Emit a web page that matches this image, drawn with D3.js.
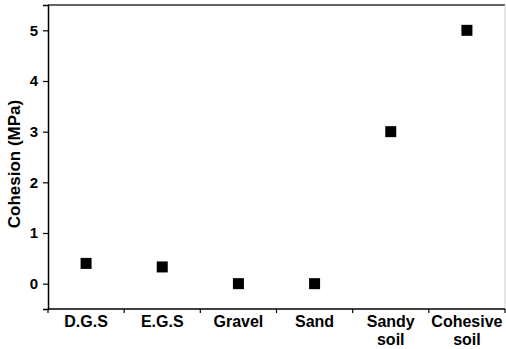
<!DOCTYPE html>
<html><head><meta charset="utf-8">
<script src="https://cdn.jsdelivr.net/npm/d3@7"></script>
<style>body{margin:0;background:#fff}svg{display:block}text{font-family:"Liberation Sans",Arial,sans-serif;font-weight:bold}</style>
</head><body>
<script>
const categories = ["D.G.S","E.G.S","Gravel","Sand","Sandy soil","Cohesive soil"];
const cohesion = [0.4, 0.33, 0, 0, 3, 5];
const yTicks = [0,1,2,3,4,5];
const yLabel = "Cohesion (MPa)";

const W=506,H=349;
const m={l:48,t:5,r:1,b:40};
const svg=d3.select("body").append("svg").attr("width",W).attr("height",H);
const x=d3.scaleBand().domain(categories).range([m.l,W-m.r]);
const y=d3.scaleLinear().domain([-0.5,5.5]).range([H-m.b,m.t]);

// frame top/right
svg.append("line").attr("x1",m.l).attr("x2",W-m.r).attr("y1",m.t).attr("y2",m.t).attr("stroke","#666").attr("stroke-width",2);
svg.append("line").attr("x1",W-m.r).attr("x2",W-m.r).attr("y1",m.t).attr("y2",H-m.b).attr("stroke","#ccc").attr("stroke-width",1);

// y axis
const ya=svg.append("g").attr("transform",`translate(${m.l},0)`).call(d3.axisLeft(y).tickValues(yTicks).tickSize(5).tickPadding(5).tickFormat(d3.format("d")));
ya.attr("font-size",15).attr("font-family","Liberation Sans, Arial, sans-serif");
ya.select(".domain").attr("stroke","#000").attr("stroke-width",1.5);
ya.selectAll(".tick line").attr("stroke-width",1.2);
ya.selectAll("text").attr("font-size",15).attr("fill","#000").attr("font-weight","bold");

// x axis with ticks at band boundaries
const xa=svg.append("g").attr("transform",`translate(0,${H-m.b})`);
xa.append("line").attr("x1",m.l).attr("x2",W-m.r).attr("stroke","#000").attr("stroke-width",1.5);
const bounds=categories.map(c=>x(c)).concat([x.range()[1]]);
xa.selectAll("line.tk").data(bounds).join("line").attr("class","tk").attr("x1",d=>d).attr("x2",d=>d).attr("y1",0).attr("y2",4).attr("stroke","#000").attr("stroke-width",1.2);
const lab=xa.selectAll("text.lab").data(categories).join("text").attr("class","lab")
 .attr("x",d=>x(d)+x.bandwidth()/2).attr("y",18).attr("text-anchor","middle").attr("font-size",16).attr("fill","#000");
lab.each(function(d){
  const parts=d.split(" ");
  d3.select(this).selectAll("tspan").data(parts).join("tspan").attr("x",x(d)+x.bandwidth()/2).attr("dy",(p,i)=>i?18:0).text(p=>p);
});

// y label
svg.append("text").attr("transform",`translate(20,164) rotate(-90)`).attr("text-anchor","middle").attr("font-size",17).attr("fill","#000").text(yLabel);

// points
const s=11;
svg.selectAll("rect.pt").data(categories.map((c,i)=>({c,v:cohesion[i]}))).join("rect").attr("class","pt")
 .attr("x",d=>x(d.c)+x.bandwidth()/2-s/2).attr("y",d=>y(d.v)-s/2).attr("width",s).attr("height",s).attr("fill","#000");
</script>
</body></html>
